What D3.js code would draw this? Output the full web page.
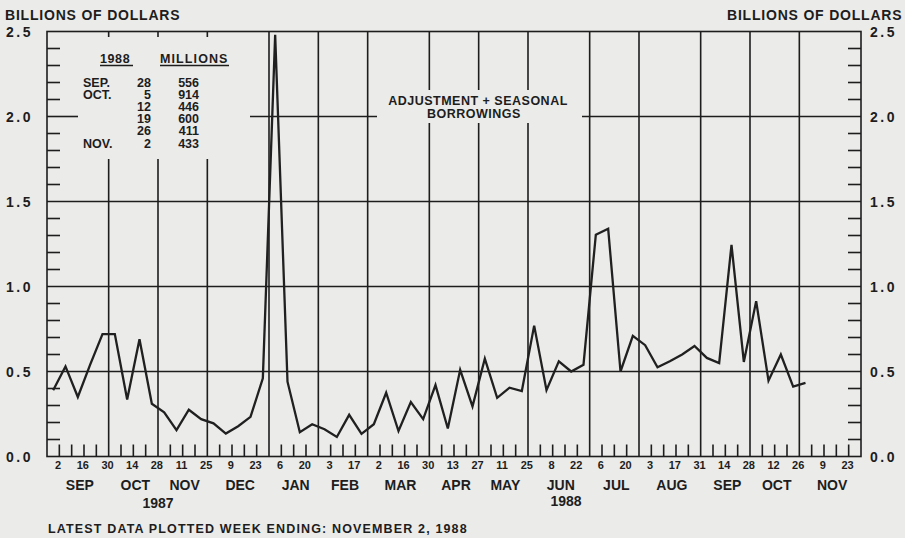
<!DOCTYPE html>
<html>
<head>
<meta charset="utf-8">
<script src="https://cdn.jsdelivr.net/npm/d3@7"></script>
<style>
  body { margin: 0; background: #ebebe9; }
  svg { display: block; font-family: "Liberation Sans", Arial, sans-serif; font-weight: bold; }
  text { fill: #1d1d1d; }
</style>
</head>
<body>
<div id="chart"></div>
<script>
// weekly averages, billions of dollars, weeks ending Wednesday from Sep 2 1987
const firstWeek = new Date(1987, 8, 2);
const lastSlot = new Date(1988, 11, 1);
const values = [
  0.39, 0.53, 0.35, 0.54, 0.72, 0.72, 0.335, 0.69, 0.31, 0.26,
  0.155, 0.275, 0.22, 0.195, 0.135, 0.178, 0.233, 0.46, 2.48, 0.44,
  0.143, 0.19, 0.16, 0.115, 0.245, 0.133, 0.19, 0.375, 0.15, 0.32,
  0.22, 0.42, 0.165, 0.51, 0.295, 0.575, 0.345, 0.405, 0.385, 0.77,
  0.39, 0.56, 0.50, 0.54, 1.305, 1.34, 0.50, 0.71, 0.655, 0.525,
  0.56, 0.60, 0.65, 0.58, 0.55, 1.245, 0.556, 0.914, 0.446, 0.600,
  0.411, 0.433
];
const monthNames = ["SEP", "OCT", "NOV", "DEC", "JAN", "FEB", "MAR", "APR",
                    "MAY", "JUN", "JUL", "AUG", "SEP", "OCT", "NOV"];
const yTicks = [0, 0.5, 1.0, 1.5, 2.0, 2.5];
const yearLabels = ["1987", "1988"];

const tableMonths = ["SEP.", "OCT.", "", "", "", "NOV."];
const tableDays = [28, 5, 12, 19, 26, 2];
const tableMillions = [556, 914, 446, 600, 411, 433];

const W = 905, H = 538;
const pLeft = 47, pRight = 861, pTop = 31.5, pBottom = 456.5;
const ink = "#1d1d1d";

const svg = d3.select("#chart").append("svg")
  .attr("width", W).attr("height", H);

const slots = d3.timeWednesday.range(firstWeek, lastSlot);
const x = d3.scaleBand().domain(d3.range(slots.length)).range([pLeft, pRight]);
const bw = x.bandwidth();
const y = d3.scaleLinear().domain([0, 2.5]).range([pBottom, pTop]);

const monthStarts = slots.map((d, i) => i)
  .filter(i => i === 0 || slots[i].getMonth() !== slots[i - 1].getMonth());

// boxes that the grid stops around
const tableBox = { x0: 78, x1: 250, y0: 37, y1: 159 };
const noteBox = { x0: 377, x1: 582, y0: 90, y1: 123 };
const boxes = [tableBox, noteBox];

const grid = svg.append("g").attr("stroke", ink).attr("stroke-width", 1.6).attr("fill", "none");

function vSegments(xv, y0, y1) {
  let segs = [[y0, y1]];
  boxes.forEach(b => {
    if (xv < b.x0 || xv > b.x1) return;
    segs = segs.flatMap(([a, c]) => {
      const out = [];
      if (b.y0 > a) out.push([a, Math.min(c, b.y0)]);
      if (b.y1 < c) out.push([Math.max(a, b.y1), c]);
      return out;
    });
  });
  return segs;
}
function hSegments(yv, x0, x1) {
  let segs = [[x0, x1]];
  boxes.forEach(b => {
    if (yv < b.y0 || yv > b.y1) return;
    segs = segs.flatMap(([a, c]) => {
      const out = [];
      if (b.x0 > a) out.push([a, Math.min(c, b.x0)]);
      if (b.x1 < c) out.push([Math.max(a, b.x1), c]);
      return out;
    });
  });
  return segs;
}

// frame
grid.append("rect")
  .attr("x", pLeft).attr("y", pTop)
  .attr("width", pRight - pLeft).attr("height", pBottom - pTop);

// horizontal grid lines
yTicks.filter(v => v > 0 && v < 2.5).forEach(v => {
  hSegments(y(v), pLeft, pRight).forEach(([a, c]) => {
    grid.append("line").attr("x1", a).attr("x2", c).attr("y1", y(v)).attr("y2", y(v));
  });
});

// minor ticks every 0.1, both sides
d3.range(1, 25).filter(k => k % 5 !== 0).forEach(k => {
  const yy = y(k / 10);
  grid.append("line").attr("x1", pLeft).attr("x2", pLeft + 13).attr("y1", yy).attr("y2", yy);
  grid.append("line").attr("x1", pRight - 13).attr("x2", pRight).attr("y1", yy).attr("y2", yy);
});

// month grid lines
monthStarts.filter(i => i > 0).forEach(i => {
  const xv = x(i);
  vSegments(xv, pTop, pBottom).forEach(([a, c]) => {
    grid.append("line").attr("x1", xv).attr("x2", xv).attr("y1", a).attr("y2", c);
  });
});

// weekly ticks
d3.range(1, slots.length).filter(i => !monthStarts.includes(i)).forEach(i => {
  grid.append("line").attr("x1", x(i)).attr("x2", x(i))
    .attr("y1", pBottom).attr("y2", pBottom - 12);
});

// data line
const line = d3.line()
  .x((d, i) => x(i) + bw / 2)
  .y(d => y(d));
svg.append("path")
  .datum(values)
  .attr("d", line)
  .attr("fill", "none")
  .attr("stroke", "#202020")
  .attr("stroke-width", 2.3)
  .attr("stroke-linejoin", "miter");

// y labels
const yl = svg.append("g").attr("font-size", 14).attr("letter-spacing", 2.5);
yTicks.forEach(v => {
  yl.append("text").attr("x", 6).attr("y", y(v) + 5).text(v.toFixed(1));
  yl.append("text").attr("x", 870).attr("y", y(v) + 5).text(v.toFixed(1));
});

svg.append("text").attr("x", 5).attr("y", 19.5)
  .attr("font-size", 14).attr("letter-spacing", 0.8)
  .text("BILLIONS OF DOLLARS");
svg.append("text").attr("x", 727).attr("y", 19.5)
  .attr("font-size", 14).attr("letter-spacing", 0.8)
  .text("BILLIONS OF DOLLARS");

// x labels
const xl = svg.append("g").attr("text-anchor", "middle");
slots.forEach((d, i) => {
  if (i % 2 !== 0) return;
  xl.append("text").attr("x", x(i) + bw / 2 + 5).attr("y", 469)
    .attr("font-size", 11).text(d.getDate());
});
const monthEnds = monthStarts.slice(1).concat([slots.length]);
monthStarts.forEach((s, k) => {
  const e = monthEnds[k];
  const cx = (x(s) + (e < slots.length ? x(e) : pRight)) / 2;
  xl.append("text").attr("x", cx + 2).attr("y", 490)
    .attr("font-size", 14).text(monthNames[k]);
});
const novStart = monthStarts[2];
const junStart = monthStarts[9];
xl.append("text").attr("x", x(novStart)).attr("y", 508).attr("font-size", 14).text(yearLabels[0]);
xl.append("text").attr("x", x(junStart) + 38).attr("y", 506).attr("font-size", 14).text(yearLabels[1]);

svg.append("text").attr("x", 48).attr("y", 533)
  .attr("font-size", 12.5).attr("letter-spacing", 1.15)
  .text("LATEST DATA PLOTTED WEEK ENDING: NOVEMBER 2, 1988");

// annotation
const note = svg.append("g").attr("text-anchor", "middle").attr("font-size", 12.5)
  .attr("letter-spacing", 0.5);
note.append("text").attr("x", 478).attr("y", 104.5).text("ADJUSTMENT + SEASONAL");
note.append("text").attr("x", 474).attr("y", 118).text("BORROWINGS");

// table of latest weeks
const tb = svg.append("g").attr("font-size", 12.5);
tb.append("text").attr("x", 100).attr("y", 63).attr("letter-spacing", 0.6).text("1988");
tb.append("text").attr("x", 160).attr("y", 63).attr("letter-spacing", 1.1).text("MILLIONS");
tb.append("line").attr("x1", 100).attr("x2", 133).attr("y1", 65.5).attr("y2", 65.5)
  .attr("stroke", ink).attr("stroke-width", 1.4);
tb.append("line").attr("x1", 160).attr("x2", 229).attr("y1", 65.5).attr("y2", 65.5)
  .attr("stroke", ink).attr("stroke-width", 1.4);
tableDays.forEach((d, i) => {
  const yy = 86.5 + i * 12.2;
  tb.append("text").attr("x", 83).attr("y", yy).text(tableMonths[i]);
  tb.append("text").attr("x", 151).attr("y", yy).attr("text-anchor", "end").text(d);
  tb.append("text").attr("x", 199).attr("y", yy).attr("text-anchor", "end").text(tableMillions[i]);
});
</script>
</body>
</html>
